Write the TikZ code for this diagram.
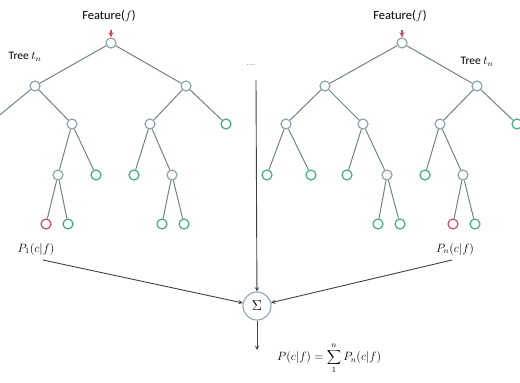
\documentclass[tikz,border=0pt]{standalone}
\usepackage{fontspec}
\setmainfont{Carlito}
\usetikzlibrary{arrows}

\definecolor{edgegray}{RGB}{115,130,130}
\definecolor{nodeblue}{RGB}{140,165,175}
\definecolor{leafgreen}{RGB}{70,170,140}
\definecolor{hitred}{RGB}{200,80,95}

\tikzset{
  split/.style={circle, draw=nodeblue, fill=white, line width=1.2pt, minimum size=10pt, inner sep=0pt},
  leaf/.style={split, draw=leafgreen},
  hit/.style={split, draw=hitred},
  branch/.style={draw=edgegray, line width=1pt},
  vote/.style={draw=black!75, line width=0.9pt, -stealth},
  label text/.style={font=\fontsize{11.5}{13}\selectfont, inner sep=0pt},
}

\begin{document}
\begin{tikzpicture}[x=1pt,y=-1pt]
  % Fix the page to the reference size (520 x 383)
  \useasboundingbox (0,0) rectangle (520,383);

  % Left tree: nodes level by level
  \node[split] (lroot) at (111,43) {};
  \node[split] (la) at (35,86) {};
  \node[split] (lb) at (186,86) {};
  \node[split] (lc) at (72,124) {};
  \node[split] (ld) at (150,124) {};
  \node[leaf]  (le) at (226,124) {};
  \node[split] (lf) at (58,175) {};
  \node[leaf]  (lg) at (96,175) {};
  \node[leaf]  (lh) at (134,175) {};
  \node[split] (li) at (172,175) {};
  \node[hit]   (lj) at (46,224) {};
  \node[leaf]  (lk) at (68,224) {};
  \node[leaf]  (ll) at (162,224) {};
  \node[leaf]  (lm) at (184,224) {};
  \coordinate (ledge) at (-10,123); % branch leaving the page

  % Left tree: branches
  \draw[branch] (lroot) -- (la);
  \draw[branch] (lroot) -- (lb);
  \draw[branch] (la) -- (ledge);
  \draw[branch] (la) -- (lc);
  \draw[branch] (lb) -- (ld);
  \draw[branch] (lb) -- (le);
  \draw[branch] (lc) -- (lf);
  \draw[branch] (lc) -- (lg);
  \draw[branch] (ld) -- (lh);
  \draw[branch] (ld) -- (li);
  \draw[branch] (lf) -- (lj);
  \draw[branch] (lf) -- (lk);
  \draw[branch] (li) -- (ll);
  \draw[branch] (li) -- (lm);

  % Right tree: nodes level by level
  \node[split] (rroot) at (402,43) {};
  \node[split] (ra) at (325,86) {};
  \node[split] (rb) at (477,86) {};
  \node[split] (rc) at (286,124) {};
  \node[split] (rd) at (363,124) {};
  \node[split] (re) at (440,124) {};
  \node[leaf]  (rf) at (517,124) {};
  \node[leaf]  (rg) at (267,175) {};
  \node[leaf]  (rh) at (311,175) {};
  \node[leaf]  (ri) at (347,175) {};
  \node[split] (rj) at (387,175) {};
  \node[leaf]  (rk) at (425,175) {};
  \node[split] (rl) at (463,175) {};
  \node[leaf]  (rm) at (378,224) {};
  \node[leaf]  (rn) at (400,224) {};
  \node[hit]   (ro) at (453,224) {};
  \node[leaf]  (rp) at (475,224) {};

  % Right tree: branches
  \draw[branch] (rroot) -- (ra);
  \draw[branch] (rroot) -- (rb);
  \draw[branch] (ra) -- (rc);
  \draw[branch] (ra) -- (rd);
  \draw[branch] (rb) -- (re);
  \draw[branch] (rb) -- (rf);
  \draw[branch] (rc) -- (rg);
  \draw[branch] (rc) -- (rh);
  \draw[branch] (rd) -- (ri);
  \draw[branch] (rd) -- (rj);
  \draw[branch] (re) -- (rk);
  \draw[branch] (re) -- (rl);
  \draw[branch] (rj) -- (rm);
  \draw[branch] (rj) -- (rn);
  \draw[branch] (rl) -- (ro);
  \draw[branch] (rl) -- (rp);

  % Feature input on top of each root
  \node[font=\fontsize{12.5}{14}\selectfont] (lfeat) at (109,16) {Feature($f$)};
  \node[font=\fontsize{12.5}{14}\selectfont] (rfeat) at (400,16) {Feature($f$)};
  \coordinate (ltip) at (111,30);
  \coordinate (rtip) at (402,30);
  \draw[hitred, line width=1.3pt, -stealth] (ltip) -- (lroot);
  \draw[hitred, line width=1.3pt, -stealth] (rtip) -- (rroot);

  % Tree names
  \node[label text] (lname) at (25,57) {Tree $t_n$};
  \node[label text] (rname) at (477,62) {Tree $t_n$};

  % Leaf probabilities
  \node[label text] (lprob) at (36,249) {$P_1(c|f)$};
  \node[label text] (rprob) at (455,249) {$P_n(c|f)$};
  \coordinate (lstart) at (43,260);
  \coordinate (rstart) at (452,260);

  % The other trees, left out
  \node[font=\scriptsize, text=black!55] (dots) at (251,65) {.....};
  \coordinate (mstart) at (256,80);

  % Summing node and output
  \node[circle, draw=nodeblue, line width=1.1pt, minimum size=28pt, inner sep=0pt, font=\Large] (sum) at (257,306) {$\Sigma$};
  \coordinate (out) at (257,350);
  \draw[vote] (lstart) -- (sum);
  \draw[vote] (rstart) -- (sum);
  \draw[vote] (mstart) -- (sum);
  \draw[vote] (sum) -- (out);
  \node[label text, anchor=west] (result) at (277,358) {$P(c|f) = \displaystyle\sum_{1}^{n} P_n(c|f)$};
\end{tikzpicture}
\end{document}
